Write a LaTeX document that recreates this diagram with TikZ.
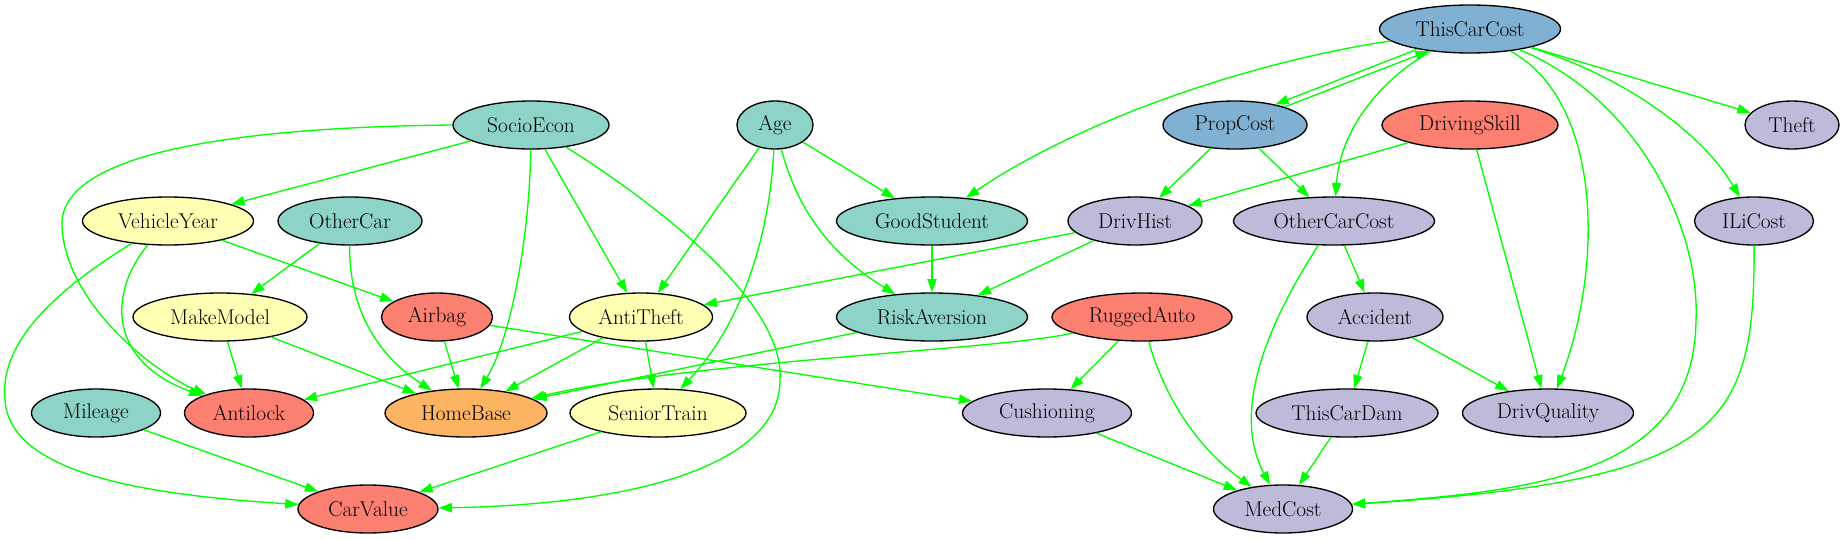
\documentclass[tikz,border=0pt]{standalone}
\usepackage{fontspec}
\usetikzlibrary{shapes.geometric,arrows.meta}
\definecolor{cteal}{HTML}{8DD3C7}
\definecolor{cyellow}{HTML}{FFFFB3}
\definecolor{clav}{HTML}{BEBADA}
\definecolor{csalmon}{HTML}{FB8072}
\definecolor{cblue}{HTML}{80B1D3}
\definecolor{corange}{HTML}{FDB462}
\definecolor{cgreen}{HTML}{00FF00}
\begin{document}
\begin{tikzpicture}[x=0.75pt,y=-0.75pt,
  nd/.style={ellipse,draw=black,line width=1pt,inner sep=0pt,minimum height=36pt,font=\fontsize{16}{19}\selectfont},
  nw/.style={minimum width=#1*0.75pt},
  arr/.style={draw=cgreen,line width=1pt,-{Triangle[length=10pt,width=7pt]}}]
\useasboundingbox (0,0) rectangle (1845,539);
% row 0
\node[nd,nw=181,fill=cblue] (ThisCarCost) at (1470,29) {ThisCarCost};
% row 1
\node[nd,nw=156,fill=cteal] (SocioEcon) at (531,125) {SocioEcon};
\node[nd,nw=76,fill=cteal] (Age) at (775,125) {Age};
\node[nd,nw=144,fill=cblue] (PropCost) at (1235,125) {PropCost};
\node[nd,nw=176,fill=csalmon] (DrivingSkill) at (1470,125) {DrivingSkill};
\node[nd,nw=94,fill=clav] (Theft) at (1792,125) {Theft};
% row 2
\node[nd,nw=171,fill=cyellow] (VehicleYear) at (168,221) {VehicleYear};
\node[nd,nw=144,fill=cteal] (OtherCar) at (350,221) {OtherCar};
\node[nd,nw=191,fill=cteal] (GoodStudent) at (932,221) {GoodStudent};
\node[nd,nw=134,fill=clav] (DrivHist) at (1135,221) {DrivHist};
\node[nd,nw=201,fill=clav] (OtherCarCost) at (1334,221) {OtherCarCost};
\node[nd,nw=119,fill=clav] (ILiCost) at (1754,221) {ILiCost};
% row 3
\node[nd,nw=174,fill=cyellow] (MakeModel) at (220,317) {MakeModel};
\node[nd,nw=111,fill=csalmon] (Airbag) at (437,317) {Airbag};
\node[nd,nw=143,fill=cyellow] (AntiTheft) at (641,317) {AntiTheft};
\node[nd,nw=191,fill=cteal] (RiskAversion) at (932,317) {RiskAversion};
\node[nd,nw=180,fill=csalmon] (RuggedAuto) at (1142,317) {RuggedAuto};
\node[nd,nw=136,fill=clav] (Accident) at (1375,317) {Accident};
% row 4
\node[nd,nw=129,fill=cteal] (Mileage) at (96,413) {Mileage};
\node[nd,nw=129,fill=csalmon] (Antilock) at (249,413) {Antilock};
\node[nd,nw=162,fill=corange] (HomeBase) at (466,413) {HomeBase};
\node[nd,nw=176,fill=cyellow] (SeniorTrain) at (658,413) {SeniorTrain};
\node[nd,nw=169,fill=clav] (Cushioning) at (1047,413) {Cushioning};
\node[nd,nw=182,fill=clav] (ThisCarDam) at (1347,413) {ThisCarDam};
\node[nd,nw=171,fill=clav] (DrivQuality) at (1548,413) {DrivQuality};
% row 5
\node[nd,nw=140,fill=csalmon] (CarValue) at (368,509) {CarValue};
\node[nd,nw=139,fill=clav] (MedCost) at (1283,509) {MedCost};

% edges from SocioEcon
\draw[arr] (SocioEcon) -- (VehicleYear);
\draw[arr] (SocioEcon.west) .. controls (250,127) and (60,150) .. (62,225) .. controls (64,300) and (150,370) .. (Antilock);
\draw[arr] (SocioEcon) .. controls (530,220) and (515,330) .. (HomeBase);
\draw[arr] (SocioEcon) -- (AntiTheft);
\draw[arr] (SocioEcon) .. controls (650,200) and (785,300) .. (780,380) .. controls (780,470) and (620,505) .. (CarValue);
% Age
\draw[arr] (Age) -- (AntiTheft);
\draw[arr] (Age) .. controls (770,230) and (745,320) .. (SeniorTrain);
\draw[arr] (Age) .. controls (800,220) and (840,260) .. (RiskAversion);
\draw[arr] (Age) -- (GoodStudent);
% VehicleYear
\draw[arr] (VehicleYear) -- (Airbag);
\draw[arr] (VehicleYear) .. controls (110,290) and (105,360) .. (Antilock);
\draw[arr] (VehicleYear) .. controls (40,300) and (0,350) .. (5,400) .. controls (10,475) and (150,495) .. (CarValue);
% OtherCar
\draw[arr] (OtherCar) -- (MakeModel);
\draw[arr] (OtherCar) .. controls (349,300) and (370,350) .. (HomeBase);
% MakeModel, Airbag, AntiTheft
\draw[arr] (MakeModel) -- (Antilock);
\draw[arr] (MakeModel) -- (HomeBase);
\draw[arr] (Airbag) -- (HomeBase);
\draw[arr] (Airbag) -- (Cushioning);
\draw[arr] (AntiTheft) -- (Antilock);
\draw[arr] (AntiTheft) -- (HomeBase);
\draw[arr] (AntiTheft) -- (SeniorTrain);
% GoodStudent, DrivHist, RiskAversion, RuggedAuto
\draw[arr] (GoodStudent) -- (RiskAversion);
\draw[arr] (DrivHist) -- (AntiTheft);
\draw[arr] (DrivHist) -- (RiskAversion);
\draw[arr] (RiskAversion) -- (HomeBase);
\draw[arr] (RuggedAuto) .. controls (1000,350) and (700,360) .. (HomeBase);
\draw[arr] (RuggedAuto) -- (Cushioning);
\draw[arr] (RuggedAuto) .. controls (1165,400) and (1200,450) .. (MedCost);
% lower rows
\draw[arr] (Mileage) -- (CarValue);
\draw[arr] (SeniorTrain) -- (CarValue);
\draw[arr] (Cushioning) -- (MedCost);
\draw[arr] (ThisCarDam) -- (MedCost);
\draw[arr] (OtherCarCost) .. controls (1270,320) and (1230,410) .. (MedCost);
\draw[arr] (OtherCarCost) -- (Accident);
\draw[arr] (Accident) -- (ThisCarDam);
\draw[arr] (Accident) -- (DrivQuality);
% PropCost
\draw[arr] (PropCost) -- (DrivHist);
\draw[arr] (PropCost) -- (OtherCarCost);
\draw[arr] (ThisCarCost.201) -- (PropCost.27);
\draw[arr] (PropCost.20) -- (ThisCarCost.208);
% ThisCarCost
\draw[arr] (ThisCarCost) .. controls (1380,80) and (1340,130) .. (OtherCarCost);
\draw[arr] (ThisCarCost) .. controls (1250,62) and (1080,120) .. (GoodStudent);
\draw[arr] (ThisCarCost) -- (Theft);
\draw[arr] (ThisCarCost) .. controls (1620,75) and (1700,130) .. (ILiCost);
\draw[arr] (ThisCarCost) .. controls (1600,100) and (1605,260) .. (DrivQuality);
\draw[arr] (ThisCarCost) .. controls (1640,100) and (1700,230) .. (1696,320) .. controls (1694,470) and (1550,490) .. (MedCost);
\draw[arr] (ILiCost) .. controls (1755,430) and (1720,480) .. (MedCost);
% DrivingSkill
\draw[arr] (DrivingSkill) -- (DrivHist);
\draw[arr] (DrivingSkill) -- (DrivQuality);
\end{tikzpicture}
\end{document}
